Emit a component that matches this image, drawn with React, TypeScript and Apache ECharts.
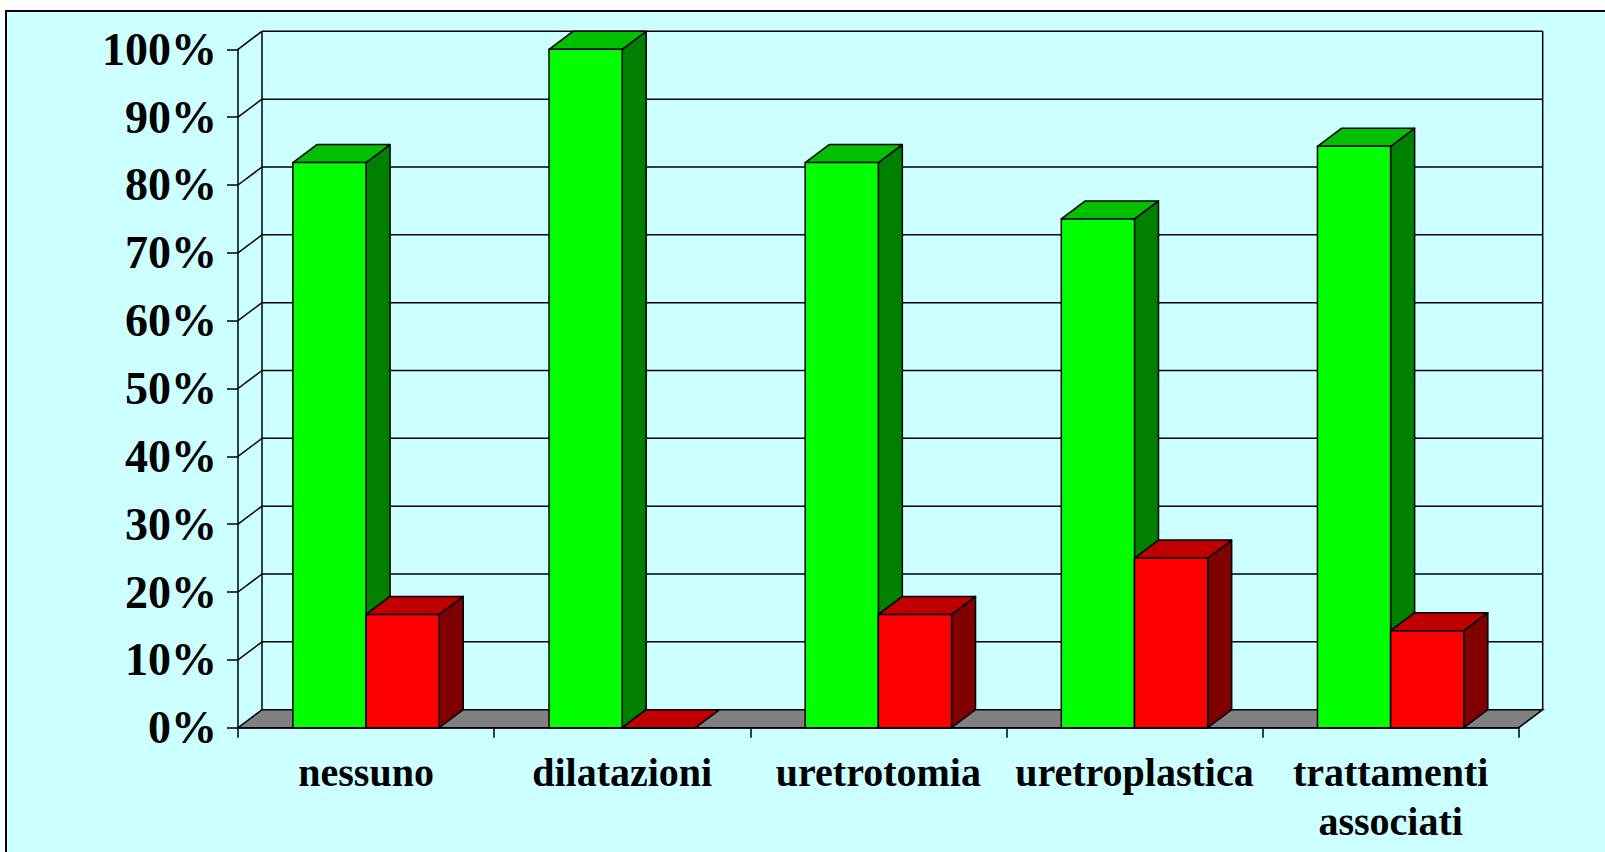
import React, { useEffect, useRef } from "react";
import * as echarts from "echarts";

const categories = ["nessuno", "dilatazioni", "uretrotomia", "uretroplastica", "trattamenti\nassociati"];
const greenValues = [83.3, 100, 83.3, 75, 85.7];
const redValues = [16.7, 0, 16.7, 25, 14.3];
const yTicks = [0, 10, 20, 30, 40, 50, 60, 70, 80, 90, 100];

const DX = 24;
const DY = 18;
const FONT = '"Liberation Serif", "Times New Roman", serif';

const barColors = [
  { front: "#00FF00", top: "#00C000", side: "#008000" },
  { front: "#FF0000", top: "#C00000", side: "#800000" },
];

function makeBarRender(seriesIdx: number) {
  return (params: any, api: any) => {
    const cat = api.value(0);
    const val = api.value(1);
    const c = api.coord([cat, val]);
    const base = api.coord([cat, 0]);
    const catW = api.size([1, 0])[0];
    const bw = catW / 3.5;
    const xl = seriesIdx === 0 ? c[0] - bw : c[0];
    const xr = xl + bw;
    const top = c[1];
    const bot = base[1];
    const col = barColors[seriesIdx];
    const st = { stroke: "#000", lineWidth: 1.5, lineJoin: "round" };
    return {
      type: "group",
      children: [
        {
          type: "polygon",
          shape: { points: [[xr, top], [xr + DX, top - DY], [xr + DX, bot - DY], [xr, bot]] },
          style: { fill: col.side, ...st },
        },
        {
          type: "polygon",
          shape: { points: [[xl, top], [xr, top], [xr + DX, top - DY], [xl + DX, top - DY]] },
          style: { fill: col.top, ...st },
        },
        {
          type: "polygon",
          shape: { points: [[xl, top], [xr, top], [xr, bot], [xl, bot]] },
          style: { fill: col.front, ...st },
        },
      ],
    };
  };
}

function wallRender(params: any, api: any) {
  const v = api.value(1);
  const cs = params.coordSys;
  const x0 = cs.x;
  const x1 = cs.x + cs.width;
  const y = api.coord([0, v])[1];
  const st = { stroke: "#000", lineWidth: 1.5 };
  const children: any[] = [];
  if (v === 0) {
    const yTop = api.coord([0, yTicks[yTicks.length - 1]])[1];
    children.push({
      type: "polygon",
      shape: { points: [[x0, y], [x1, y], [x1 + DX, y - DY], [x0 + DX, y - DY]] },
      style: { fill: "#808080", ...st },
    });
    children.push({
      type: "line",
      shape: { x1: x0 + DX, y1: y - DY, x2: x0 + DX, y2: yTop - DY },
      style: st,
    });
    children.push({
      type: "line",
      shape: { x1: x1 + DX, y1: y - DY, x2: x1 + DX, y2: yTop - DY },
      style: st,
    });
  } else {
    children.push({
      type: "line",
      shape: { x1: x0 + DX, y1: y - DY, x2: x1 + DX, y2: y - DY },
      style: st,
    });
    children.push({
      type: "line",
      shape: { x1: x0, y1: y, x2: x0 + DX, y2: y - DY },
      style: st,
    });
  }
  return { type: "group", children };
}

export default function App() {
  const ref = useRef<HTMLDivElement>(null);
  useEffect(() => {
    if (!ref.current) return;
    const chart = echarts.init(ref.current, null, { renderer: "svg" });
    chart.setOption({
      animation: false,
      backgroundColor: "#FFFFFF",
      graphic: [
        {
          type: "rect",
          z: -10,
          silent: true,
          shape: { x: 6, y: 11, width: 1700, height: 900 },
          style: { fill: "#CCFFFF", stroke: "#000", lineWidth: 2 },
        },
      ],
      grid: { left: 238, right: 86.3, top: 49.3, bottom: 124.3, containLabel: false },
      xAxis: {
        type: "category",
        data: categories,
        axisLine: { show: true, lineStyle: { color: "#000", width: 1.5 } },
        axisTick: { show: true, length: 10, lineStyle: { color: "#000", width: 1.5 } },
        axisLabel: {
          color: "#000",
          fontFamily: FONT,
          fontWeight: "bold",
          fontSize: 40,
          lineHeight: 49,
          margin: 20,
          interval: 0,
        },
        splitLine: { show: false },
      },
      yAxis: {
        type: "value",
        min: 0,
        max: 100,
        interval: 10,
        axisLine: { show: true, lineStyle: { color: "#000", width: 1.5 } },
        axisTick: { show: true, length: 11, lineStyle: { color: "#000", width: 1.5 } },
        axisLabel: {
          color: "#000",
          fontFamily: FONT,
          fontWeight: "bold",
          fontSize: 46,
          margin: 21,
          padding: [5, 0, 0, 0],
          formatter: "{value}%",
        },
        splitLine: { show: false },
      },
      series: [
        {
          type: "custom",
          name: "walls",
          z: 1,
          clip: false,
          silent: true,
          renderItem: wallRender,
          data: yTicks.map((t) => [0, t]),
        },
        {
          type: "custom",
          name: "verde",
          z: 3,
          clip: false,
          renderItem: makeBarRender(0),
          data: greenValues.map((v, i) => [i, v]),
        },
        {
          type: "custom",
          name: "rosso",
          z: 4,
          clip: false,
          renderItem: makeBarRender(1),
          data: redValues.map((v, i) => [i, v]),
        },
      ],
    });
    return () => chart.dispose();
  }, []);
  return (
    <div
      ref={ref}
      style={{ position: "fixed", left: 0, top: 0, width: 1605, height: 852 }}
    />
  );
}
